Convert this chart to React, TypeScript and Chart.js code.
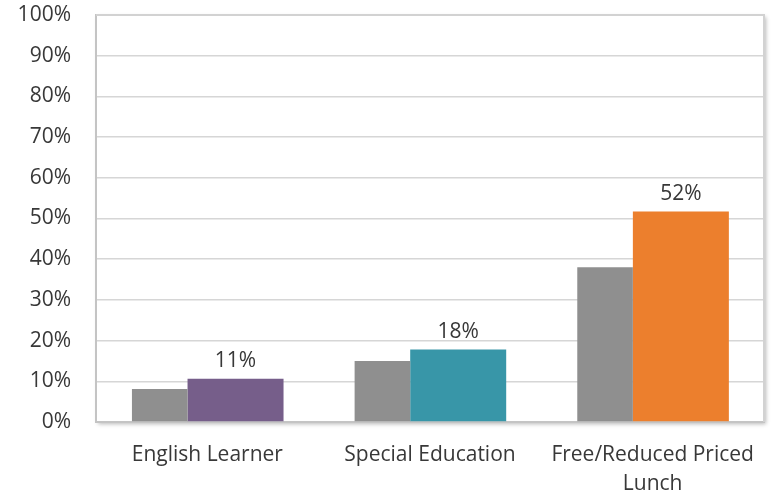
import { useEffect, useRef } from 'react';
import { Chart, registerables } from 'chart.js';

Chart.register(...registerables);

const categories: (string | string[])[] = ['English Learner', 'Special Education', ['Free/Reduced Priced', 'Lunch']];
const comparisonValues = [8.1, 15.0, 38.0];
const groupValues = [10.6, 17.8, 51.7];
const groupLabels = ['11%', '18%', '52%'];
const groupColors = ['#765e8a', '#3896a8', '#ec7f2d'];
const comparisonColor = '#8f8f8f';
const yMin = 0;
const yMax = 100;
const yStep = 10;

const FONT = '"Open Sans", "DejaVu Sans", sans-serif';
const TEXT = '#383838';

const plotFrame = {
  id: 'plotFrame',
  beforeDatasetsDraw(chart: any) {
    const { ctx, chartArea } = chart;
    ctx.save();
    ctx.strokeStyle = '#d2d2d2';
    ctx.lineWidth = 2;
    ctx.beginPath();
    ctx.moveTo(chartArea.left, chartArea.top);
    ctx.lineTo(chartArea.right, chartArea.top);
    ctx.lineTo(chartArea.right, chartArea.bottom);
    ctx.stroke();
    ctx.restore();
  },
  beforeDraw(chart: any) {
    const { ctx, chartArea } = chart;
    ctx.save();
    ctx.shadowColor = 'rgba(0,0,0,0.28)';
    ctx.shadowBlur = 4;
    ctx.shadowOffsetX = 2;
    ctx.shadowOffsetY = 2;
    ctx.fillStyle = '#ffffff';
    ctx.fillRect(chartArea.left, chartArea.top, chartArea.right - chartArea.left, chartArea.bottom - chartArea.top);
    ctx.restore();
  },
};

const valueLabels = {
  id: 'valueLabels',
  afterDatasetsDraw(chart: any) {
    const { ctx } = chart;
    const meta = chart.getDatasetMeta(1);
    ctx.save();
    ctx.font = `21px ${FONT}`;
    ctx.fillStyle = TEXT;
    ctx.textAlign = 'center';
    ctx.textBaseline = 'alphabetic';
    meta.data.forEach((bar: any, i: number) => {
      ctx.fillText(groupLabels[i], bar.x, bar.y - 11.5);
    });
    ctx.restore();
  },
};

export default function App() {
  const ref = useRef<HTMLCanvasElement>(null);

  useEffect(() => {
    if (!ref.current) return;
    const chart = new Chart(ref.current, {
      type: 'bar',
      data: {
        labels: categories as any,
        datasets: [
          {
            label: 'Comparison',
            data: comparisonValues,
            backgroundColor: comparisonColor,
            borderWidth: 0,
            categoryPercentage: 0.855,
            barPercentage: 0.584,
          },
          {
            label: 'Group',
            data: groupValues,
            backgroundColor: groupColors,
            borderWidth: 0,
            categoryPercentage: 0.5066,
            barPercentage: 1.702,
          },
        ],
      },
      options: {
        responsive: false,
        animation: false,
        events: [],
        layout: { padding: { top: 15, right: 8, left: 0, bottom: 0 } },
        plugins: {
          legend: { display: false },
          tooltip: { enabled: false },
        },
        scales: {
          x: {
            grid: { display: false, drawTicks: false },
            border: { display: true, color: '#c4c4c4', width: 2 },
            ticks: {
              color: TEXT,
              font: { family: FONT, size: 21, lineHeight: 1.35 },
              padding: 19,
              maxRotation: 0,
              autoSkip: false,
            },
            afterFit(scale: any) {
              scale.height = 75;
              scale.paddingLeft = 0;
              scale.paddingRight = 0;
            },
          },
          y: {
            min: yMin,
            max: yMax,
            grid: { color: '#d6d6d6', lineWidth: 1.6, drawTicks: false },
            border: { display: true, color: '#c4c4c4', width: 2 },
            ticks: {
              stepSize: yStep,
              color: TEXT,
              font: { family: FONT, size: 21 },
              padding: 25,
              callback: (v: any) => `${v}%`,
            },
            afterFit(scale: any) {
              scale.width = 96;
              scale.paddingTop = 0;
              scale.paddingBottom = 0;
            },
          },
        },
      },
      plugins: [plotFrame, valueLabels],
    });
    return () => chart.destroy();
  }, []);

  return (
    <div style={{ position: 'absolute', left: 0, top: 0, width: 772, height: 497 }}>
      <canvas ref={ref} width={772} height={497} style={{ display: 'block' }} />
    </div>
  );
}
